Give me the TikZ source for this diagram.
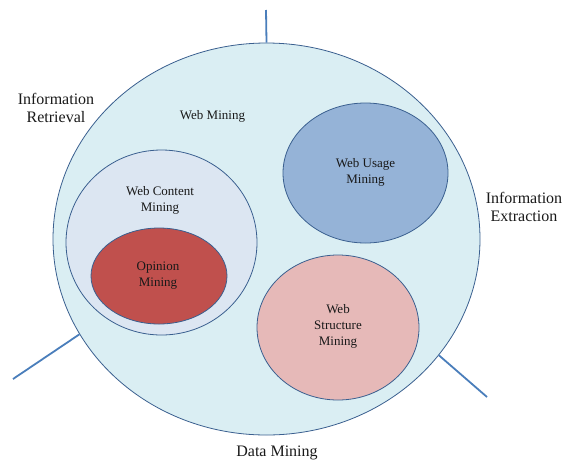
\documentclass[tikz,border=0pt]{standalone}
\usepackage{fontspec}
\setmainfont{Liberation Serif}
\usetikzlibrary{shapes.geometric}
\definecolor{outlineblue}{HTML}{3A5F8F}
\definecolor{spokeblue}{HTML}{4A7EBB}
\definecolor{aquafill}{HTML}{DAEEF3}
\definecolor{contentfill}{HTML}{DCE6F2}
\definecolor{opinionfill}{HTML}{C0504D}
\definecolor{usagefill}{HTML}{95B3D7}
\definecolor{structfill}{HTML}{E6B9B8}
\begin{document}
\begin{tikzpicture}[x=1pt,y=-1pt,
  area/.style={ellipse, draw=outlineblue, line width=0.8pt, inner sep=0pt},
  smalltext/.style={align=center, font=\fontsize{13}{16}\selectfont, text=black!90},
  bigtext/.style={align=center, font=\fontsize{16}{18}\selectfont, text=black!90},
  spoke/.style={draw=spokeblue, line width=1.8pt}]
\useasboundingbox (0,0) rectangle (569,464);

% the enclosing field
\node[area, fill=aquafill, minimum width=427pt, minimum height=392pt] (wm) at (266.5,239) {};

% sub-fields
\node[area, fill=contentfill, minimum width=191pt, minimum height=185pt] (wcm) at (161.5,242.5) {};
\node[area, fill=opinionfill, minimum width=136pt, minimum height=96pt] (om) at (159,276) {};
\node[area, fill=usagefill, minimum width=165pt, minimum height=140pt] (wum) at (365.5,173) {};
\node[area, fill=structfill, minimum width=162pt, minimum height=145pt] (wsm) at (338,327.5) {};

% spokes to neighbouring fields
\coordinate (topend) at (266,10);
\coordinate (leftend) at (13,379);
\coordinate (rightend) at (487,397);
\draw[spoke] (wm.north) -- (topend);
\draw[spoke] (wm.207.2) -- (leftend);
\draw[spoke] (wm.-34.1) -- (rightend);

% labels inside the circles
\node[smalltext] (wmlabel) at (212.5,116) {Web Mining};
\node[smalltext] (wcmlabel) at (160,200) {Web Content\\Mining};
\node[smalltext] (omlabel) at (158,275.5) {Opinion\\Mining};
\node[smalltext] (wumlabel) at (365.5,172.5) {Web Usage\\Mining};
\node[smalltext] (wsmlabel) at (338,326.7) {Web\\Structure\\Mining};

% neighbouring fields
\node[bigtext] (ir) at (56,108) {Information\\Retrieval};
\node[bigtext] (ie) at (524,206.5) {Information\\Extraction};
\node[bigtext] (dm) at (277,453) {Data Mining};
\end{tikzpicture}
\end{document}
